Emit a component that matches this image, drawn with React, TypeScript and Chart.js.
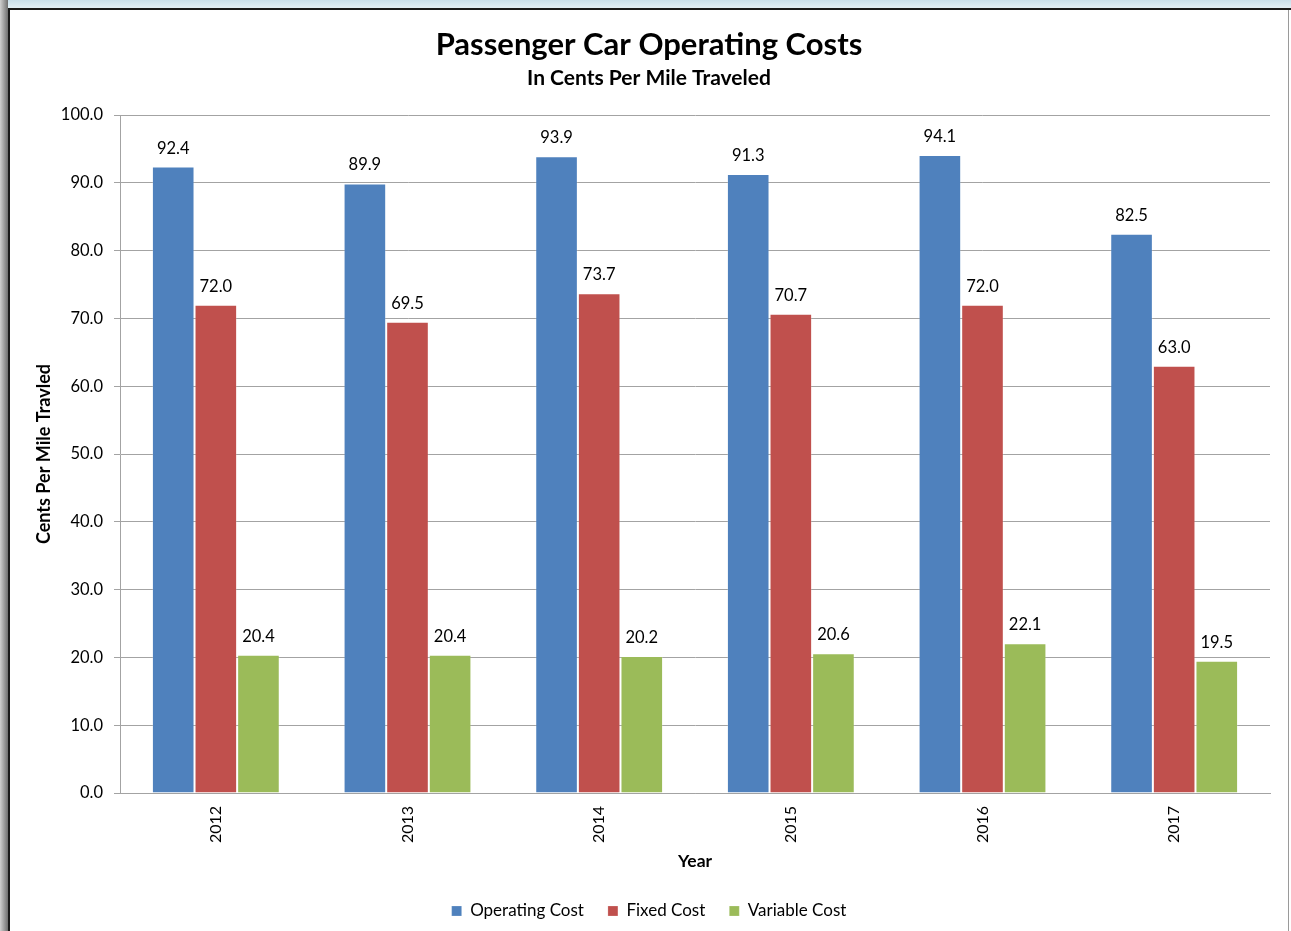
import React, { useEffect, useRef } from 'react';
import { Chart, registerables } from 'chart.js';

Chart.register(...registerables);

const years = ['2012', '2013', '2014', '2015', '2016', '2017'];
const operatingCost = [92.4, 89.9, 93.9, 91.3, 94.1, 82.5];
const fixedCost = [72.0, 69.5, 73.7, 70.7, 72.0, 63.0];
const variableCost = [20.4, 20.4, 20.2, 20.6, 22.1, 19.5];
const seriesNames = ['Operating Cost', 'Fixed Cost', 'Variable Cost'];
const seriesColors = ['#4F81BD', '#C0504D', '#9BBB59'];
const yMin = 0;
const yMax = 100;
const yStep = 10;

const FONT = 'Lato';

const valueLabels = {
  id: 'valueLabels',
  afterDatasetsDraw(chart: any) {
    const ctx = chart.ctx;
    ctx.save();
    ctx.font = `16.5px ${FONT}`;
    ctx.fillStyle = '#000';
    ctx.textAlign = 'center';
    ctx.textBaseline = 'alphabetic';
    chart.data.datasets.forEach((ds: any, i: number) => {
      const meta = chart.getDatasetMeta(i);
      meta.data.forEach((el: any, j: number) => {
        ctx.fillText(Number(ds.data[j]).toFixed(1), el.x, el.y - 13);
      });
    });
    ctx.restore();
  },
};

export default function App() {
  const ref = useRef<HTMLCanvasElement>(null);
  useEffect(() => {
    if (!ref.current) return;
    const grid = '#a3a3a3';
    const chart = new Chart(ref.current, {
      type: 'bar',
      data: {
        labels: years,
        datasets: [operatingCost, fixedCost, variableCost].map((d, i) => ({
          label: seriesNames[i],
          data: d,
          backgroundColor: seriesColors[i],
          borderColor: 'rgba(255,255,255,0.2)',
          borderWidth: 1,
          categoryPercentage: 0.667,
          barPercentage: 1,
        })),
      },
      options: {
        responsive: false,
        animation: false,
        layout: { padding: { left: 0, right: 0, top: 0, bottom: 1.5 } },
        plugins: {
          title: {
            display: true,
            text: 'Passenger Car Operating Costs',
            color: '#000',
            font: { family: FONT, size: 31, weight: 'bold' },
            padding: { top: 16.4, bottom: 0 },
          },
          subtitle: {
            display: true,
            text: 'In Cents Per Mile Traveled',
            color: '#000',
            font: { family: FONT, size: 21, weight: 'bold' },
            padding: { top: 1.8, bottom: 24.4 },
          },
          legend: {
            position: 'bottom',
            labels: {
              color: '#000',
              font: { family: FONT, size: 17 },
              boxWidth: 10,
              boxHeight: 10,
              padding: 24,
            },
          },
          tooltip: { enabled: false },
        },
        scales: {
          x: {
            grid: { display: false, drawTicks: false },
            border: { display: true, color: grid },
            ticks: {
              color: '#000',
              font: { family: FONT, size: 16 },
              minRotation: 90,
              maxRotation: 90,
              padding: 13,
            },
            title: {
              display: true,
              text: 'Year',
              color: '#000',
              font: { family: FONT, size: 17.5, weight: 'bold' },
              padding: { top: 0, bottom: 7 },
            },
            afterFit: (s: any) => {
              s.height = 85.5;
            },
          },
          y: {
            min: yMin,
            max: yMax,
            grid: { color: grid, tickLength: 6, lineWidth: 1 },
            border: { display: true, color: grid },
            ticks: {
              stepSize: yStep,
              color: '#000',
              font: { family: FONT, size: 16.5 },
              padding: 11,
              callback: (v: any) => Number(v).toFixed(1),
            },
            title: {
              display: true,
              text: 'Cents Per Mile Travled',
              color: '#000',
              font: { family: FONT, size: 18, weight: 'bold' },
              padding: { top: 23.2, bottom: 0 },
            },
            afterFit: (s: any) => {
              s.width = 110;
            },
          },
          spacer: {
            type: 'linear',
            position: 'right',
            display: true,
            grid: { display: false, drawTicks: false },
            border: { display: false },
            ticks: { display: false },
            afterFit: (s: any) => {
              s.width = 18;
            },
          },
        },
      },
      plugins: [valueLabels],
    } as any);
    return () => chart.destroy();
  }, []);

  return (
    <div style={{ position: 'fixed', left: 0, top: 0, width: 1291, height: 931, background: '#fff', overflow: 'hidden' }}>
      <div style={{ position: 'absolute', left: 0, top: 0, width: 1291, height: 8, background: 'linear-gradient(#c9dfea, #e3eff5)' }} />
      <div style={{ position: 'absolute', left: 0, top: 0, width: 8, height: 931, background: 'linear-gradient(90deg, #d0d0d0, #6f6f6f)' }} />
      <div style={{ position: 'absolute', left: 8, top: 8, width: 1283, height: 2, background: '#1a1a1a' }} />
      <div style={{ position: 'absolute', left: 8, top: 8, width: 2, height: 923, background: '#1a1a1a' }} />
      <div style={{ position: 'absolute', left: 1288, top: 10, width: 1, height: 921, background: '#9a9a9a' }} />
      <canvas ref={ref} width={1278} height={921} style={{ position: 'absolute', left: 10, top: 10, width: 1278, height: 921 }} />
    </div>
  );
}
